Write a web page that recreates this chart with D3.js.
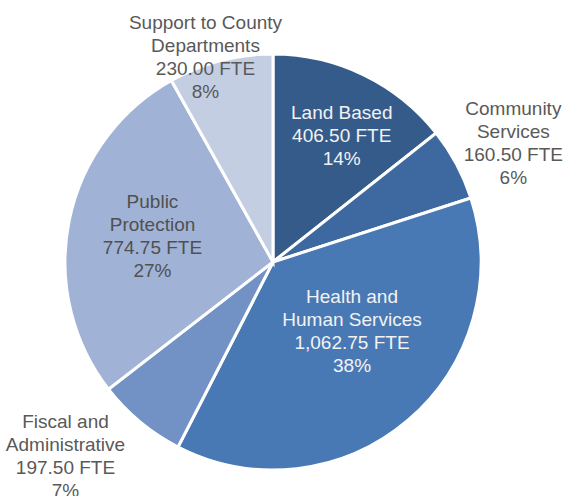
<!DOCTYPE html>
<meta charset="utf-8">
<style>
body { margin: 0; background: #fff; }
.slice { stroke: #fff; stroke-width: 3; }
.lbl { font-family: "Liberation Sans", Arial, sans-serif; font-size: 19px; text-anchor: middle; }
</style>
<body>
<div id="chart"></div>
<script src="https://d3js.org/d3.v7.min.js"></script>
<script>
// data, clockwise from 12 o'clock
var names = ["Land Based", "Community Services", "Health and Human Services",
             "Fiscal and Administrative", "Public Protection", "Support to County Departments"];
var fte = [406.50, 160.50, 1062.75, 197.50, 774.75, 230.00];
var pctLabels = ["14%", "6%", "38%", "7%", "27%", "8%"];
// how each label is broken into lines
var nameLines = [["Land Based"], ["Community", "Services"], ["Health and", "Human Services"],
                 ["Fiscal and", "Administrative"], ["Public", "Protection"], ["Support to County", "Departments"]];

var colors = ["#355b8b", "#3e69a0", "#4979b4", "#7292c6", "#a0b3d6", "#c4cee3"];
var textColors = ["#f2f2f2", "#595959", "#f2f2f2", "#595959", "#505050", "#595959"];
// label placement: radius from centre + small nudge
var labelPos = [[144, 6, 3], [268, 4, 7], [105, 11, -11], [284, -26, -25], [123, 0, -2], [216, -13, 4]];

var width = 565, height = 496;
var cx = 273, cy = 262, r = 208;

var svg = d3.select("#chart").append("svg")
    .attr("width", width)
    .attr("height", height);

var g = svg.append("g").attr("transform", "translate(" + cx + "," + cy + ")");

var pie = d3.pie().sort(null).value(function(d) { return d; });
var arcs = pie(fte);
var arc = d3.arc().innerRadius(0).outerRadius(r);

g.selectAll(".slice")
    .data(arcs)
  .enter().append("path")
    .attr("class", "slice")
    .attr("fill", function(d, i) { return colors[i]; })
    .attr("d", arc);

var fmt = d3.format(",.2f");
var lineH = 23;

arcs.forEach(function(d, i) {
  var mid = (d.startAngle + d.endAngle) / 2;
  var p = labelPos[i];
  var x = Math.sin(mid) * p[0] + p[1];
  var y = -Math.cos(mid) * p[0] + p[2];
  var lines = nameLines[i].concat([fmt(fte[i]) + " FTE", pctLabels[i]]);
  var t = g.append("text")
      .attr("class", "lbl")
      .attr("fill", textColors[i])
      .attr("x", x)
      .attr("y", y - (lines.length - 1) * lineH / 2);
  lines.forEach(function(s, k) {
    t.append("tspan")
        .attr("x", x)
        .attr("dy", k === 0 ? "0.35em" : lineH)
        .text(s);
  });
});
</script>
</body>
